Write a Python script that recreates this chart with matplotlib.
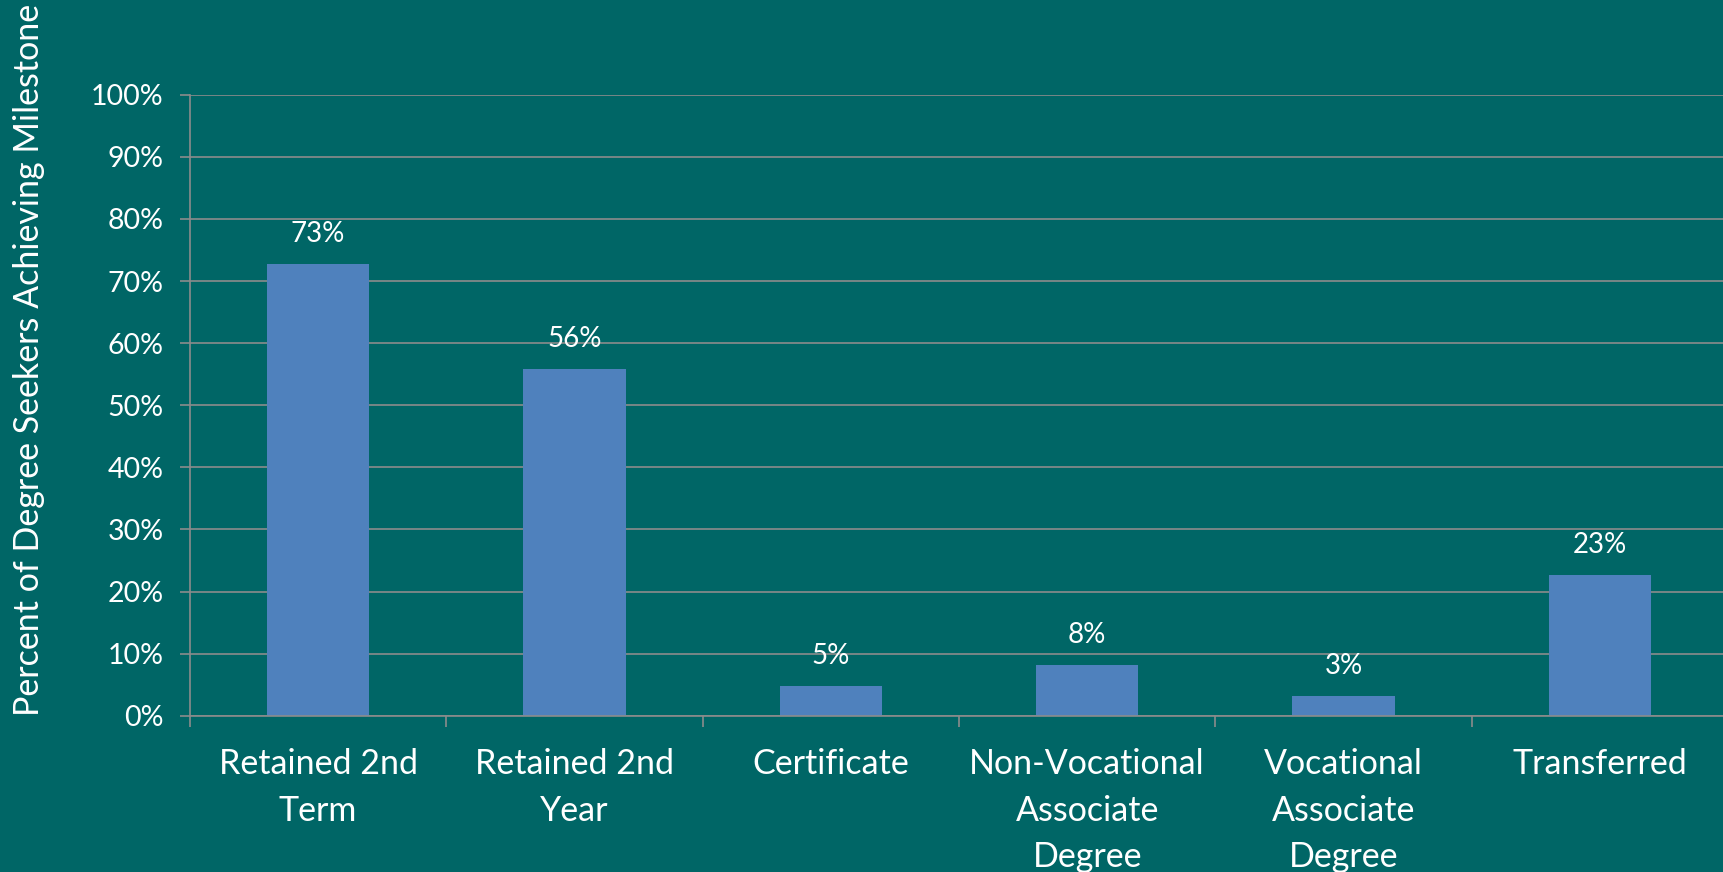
import matplotlib
matplotlib.use("Agg")
import matplotlib.pyplot as plt
import numpy as np

categories = ["Retained 2nd\nTerm", "Retained 2nd\nYear", "Certificate",
              "Non-Vocational\nAssociate\nDegree", "Vocational\nAssociate\nDegree", "Transferred"]
values = [72.7, 55.8, 4.8, 8.1, 3.2, 22.6]
labels = ["73%", "56%", "5%", "8%", "3%", "23%"]
yticks = list(range(0, 101, 10))

plt.rcParams['font.family'] = ['Lato', 'DejaVu Sans']
BG = "#006666"
BAR = "#4F81BD"
GRID = "#8C8C8C"

W, H = 1724, 872
fig = plt.figure(figsize=(W / 100, H / 100), dpi=100, facecolor=BG)
left, right, top, bottom = 190, 1728, 94.7, 715.7
ax = fig.add_axes([left / W, 1 - bottom / H, (right - left) / W, (bottom - top) / H])
ax.set_facecolor(BG)

x = np.arange(len(categories))
ax.bar(x, values, width=0.4, color=BAR, zorder=3)
for xi, v, lab in zip(x, values, labels):
    ax.annotate(lab, (xi, v), xytext=(0, 30), textcoords="offset pixels",
                ha="center", va="center", color="white", fontsize=20)

ax.set_xlim(-0.5, len(categories) - 0.5)
ax.set_ylim(0, 100)
ax.set_yticks(yticks)
ax.set_yticklabels([f"{t}%" for t in yticks], fontsize=20.5, color="white")
ax.yaxis.grid(True, color=GRID, lw=1.2, zorder=0)
ax.tick_params(axis="y", length=7, color=GRID, width=1.2, pad=12)

ax.set_xticks(x)
ax.set_xticklabels(categories, fontsize=24.5, color="white", linespacing=1.55)
ax.tick_params(axis="x", which="major", length=0, pad=23.5)
ax.set_xticks(np.arange(-0.5, len(categories), 1), minor=True)
ax.tick_params(axis="x", which="minor", length=8, color=GRID, width=1.2)

for s in ["top", "right"]:
    ax.spines[s].set_visible(False)
for s in ["left", "bottom"]:
    ax.spines[s].set_color(GRID)
    ax.spines[s].set_linewidth(1.2)
    ax.spines[s].set_zorder(4)

fig.text(29 / W, 1 - 360 / H, "Percent of Degree Seekers Achieving Milestone",
         rotation=90, ha="center", va="center", color="white", fontsize=24.5)

fig.savefig("out.png", dpi=100, facecolor=BG)
